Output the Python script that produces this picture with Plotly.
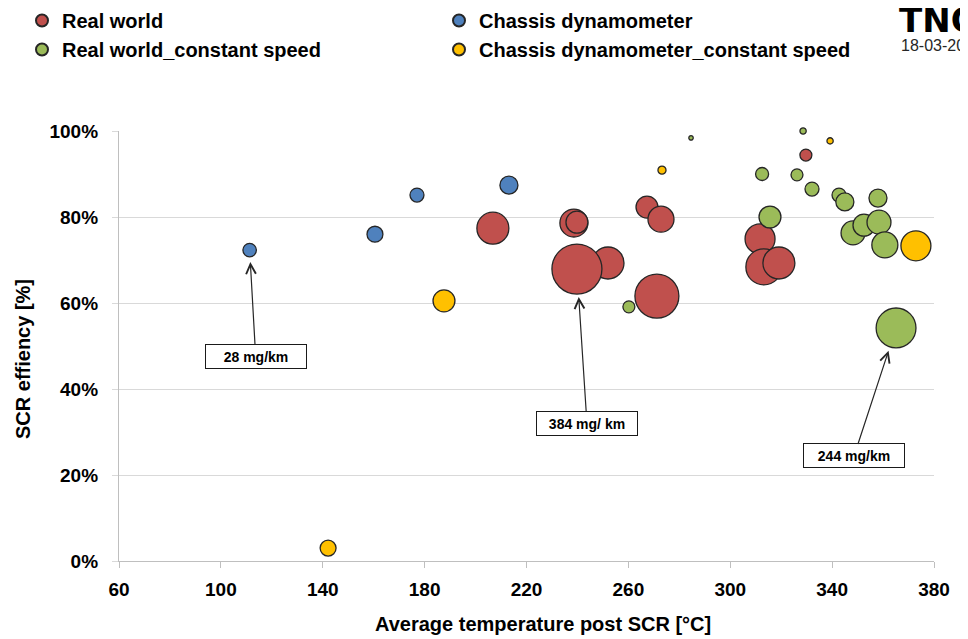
import plotly.graph_objects as go

# ---------------- data ----------------
# x: average temperature post SCR [°C], y: SCR efficiency [fraction], e: NOx emission [mg/km] (bubble size)
rw_x = [206.8, 238.6, 239.8, 252.0, 239.8, 267.3, 272.8, 271.2, 311.7, 313.2, 319.1, 329.7]
rw_y = [0.774, 0.786, 0.788, 0.693, 0.679, 0.823, 0.795, 0.616, 0.749, 0.684, 0.693, 0.944]
rw_e = [157, 120, 74, 157, 384, 74, 104, 297, 138, 199, 157, 22]

cd_x = [111.3, 160.5, 177.0, 213.1]
cd_y = [0.723, 0.760, 0.851, 0.874]
cd_e = [28, 39, 30, 50]

rwc_x = [260.2, 284.6, 328.6, 312.5, 326.2, 332.1, 342.7, 345.0, 358.0, 315.6, 348.2, 352.5, 358.4, 360.7, 365.1]
rwc_y = [0.591, 0.984, 1.000, 0.900, 0.898, 0.865, 0.851, 0.835, 0.844, 0.800, 0.763, 0.781, 0.788, 0.735, 0.542]
rwc_e = [22, 3, 6, 26, 22, 30, 30, 50, 50, 74, 88, 74, 88, 104, 244]

cdc_x = [142.1, 187.6, 273.2, 339.2, 372.9]
cdc_y = [0.030, 0.605, 0.909, 0.977, 0.733]
cdc_e = [39, 74, 10, 6, 138]

series_names = ["Real world", "Chassis dynamometer",
                "Real world_constant speed", "Chassis dynamometer_constant speed"]
series_colors = ["#C0504D", "#4F81BD", "#9BBB59", "#FFC000"]

x_ticks = [60, 100, 140, 180, 220, 260, 300, 340, 380]
y_ticks = [0, 0.2, 0.4, 0.6, 0.8, 1.0]

# callouts: (series x, series y, label, box offset x, box offset y, standoff)
callouts = [
    (cd_x[0], cd_y[0], "28 mg/km", 6, 106, 12),
    (rw_x[4], rw_y[4], "384 mg/ km", 10, 154, 28),
    (rwc_x[14], rwc_y[14], "244 mg/km", -42, 128, 24),
]

FONT = "Liberation Sans, Arial, sans-serif"
max_e = 384
max_r = 25
sizeref = max_e / (2 * max_r ** 2)

# the page body has an 8px margin: size the figure so the plot area lands where the source has it
OFF = 8
WIN_W, WIN_H = 968, 639
PL, PR, PT, PB = 119, 934, 131, 561          # plot area in window pixels
W, H = WIN_W - OFF, WIN_H - OFF
L, T = PL - OFF, PT - OFF
R, B = WIN_W - PR, WIN_H - PB
pw, ph = PR - PL, PB - PT


def px_to_paper(xp, yp):
    return (xp - PL) / pw, (PB - yp) / ph


fig = go.Figure()
for name, xs, ys, es, col in [
    (series_names[0], rw_x, rw_y, rw_e, series_colors[0]),
    (series_names[1], cd_x, cd_y, cd_e, series_colors[1]),
    (series_names[2], rwc_x, rwc_y, rwc_e, series_colors[2]),
    (series_names[3], cdc_x, cdc_y, cdc_e, series_colors[3]),
]:
    fig.add_trace(go.Scatter(
        x=xs, y=ys, mode="markers", name=f"<b>{name}</b>", cliponaxis=False,
        marker=dict(size=es, sizemode="area", sizeref=sizeref, color=col,
                    opacity=1, line=dict(color="#262626", width=1.3)),
    ))

annotations = []
for (px, py, label, ax, ay, so) in callouts:
    annotations.append(dict(
        x=px, y=py, xref="x", yref="y", text=f"<b>{label}</b>",
        showarrow=True, ax=ax, ay=ay, arrowhead=5, arrowsize=1.6, arrowwidth=1.2,
        arrowcolor="#262626", standoff=so,
        bordercolor="#1a1a1a", borderwidth=1, bgcolor="white", borderpad=2,
        width=96, height=19,
        font=dict(family=FONT, size=14, color="black"),
    ))

# axis titles
tx, ty = px_to_paper(543, 624)
annotations.append(dict(
    x=tx, y=ty, xref="paper", yref="paper", showarrow=False,
    text="<b>Average temperature post SCR [°C]</b>", xanchor="center", yanchor="middle",
    font=dict(family=FONT, size=20, color="black")))
tx, ty = px_to_paper(23, 359)
annotations.append(dict(
    x=tx, y=ty, xref="paper", yref="paper", showarrow=False, textangle=-90,
    text="<b>SCR effiency [%]</b>", xanchor="center", yanchor="middle",
    font=dict(family=FONT, size=20, color="black")))
# logo / date (cropped at the right edge as in the source)
tx, ty = px_to_paper(897, -2)
annotations.append(dict(
    x=tx, y=ty, xref="paper", yref="paper", showarrow=False, xanchor="left", yanchor="top",
    text="<b>TNO</b>", font=dict(family="DejaVu Sans, sans-serif", size=34, color="black")))
tx, ty = px_to_paper(899, 45)
annotations.append(dict(
    x=tx, y=ty, xref="paper", yref="paper", showarrow=False, xanchor="left", yanchor="middle",
    text="18-03-2015", font=dict(family=FONT, size=16, color="#262626")))

lx, ly = px_to_paper(22, 1)

fig.update_layout(
    width=W, height=H,
    margin=dict(l=L, r=R, t=T, b=B, autoexpand=False),
    paper_bgcolor="white", plot_bgcolor="white",
    font=dict(family=FONT, color="black"),
    xaxis=dict(range=[60, 380], tickvals=x_ticks, ticktext=[f"<b>{v}</b>" for v in x_ticks],
               showgrid=False, zeroline=False, showline=True, linecolor="#bfbfbf", linewidth=1.3,
               ticks="outside", ticklen=6, tickcolor="#bfbfbf", tickwidth=1.3, automargin=False,
               tickfont=dict(family=FONT, size=19, color="black"), ticklabelstandoff=5),
    yaxis=dict(range=[0, 1.0], tickvals=y_ticks, ticktext=[f"<b>{int(round(v*100))}%</b>" for v in y_ticks],
               showgrid=True, gridcolor="#d9d9d9", gridwidth=1.3, zeroline=False,
               showline=True, linecolor="#bfbfbf", linewidth=1.3, automargin=False,
               ticks="outside", ticklen=6, tickcolor="#d9d9d9", tickwidth=1.3,
               tickfont=dict(family=FONT, size=19, color="black"), ticklabelstandoff=10),
    legend=dict(orientation="h", xref="paper", yref="paper", x=lx, y=ly,
                xanchor="left", yanchor="top", entrywidth=372, entrywidthmode="pixels",
                itemsizing="constant", traceorder="normal", bgcolor="rgba(0,0,0,0)",
                font=dict(family=FONT, size=20, color="black"), itemwidth=30),
    annotations=annotations,
    showlegend=True,
)

fig.write_html("out.html")
